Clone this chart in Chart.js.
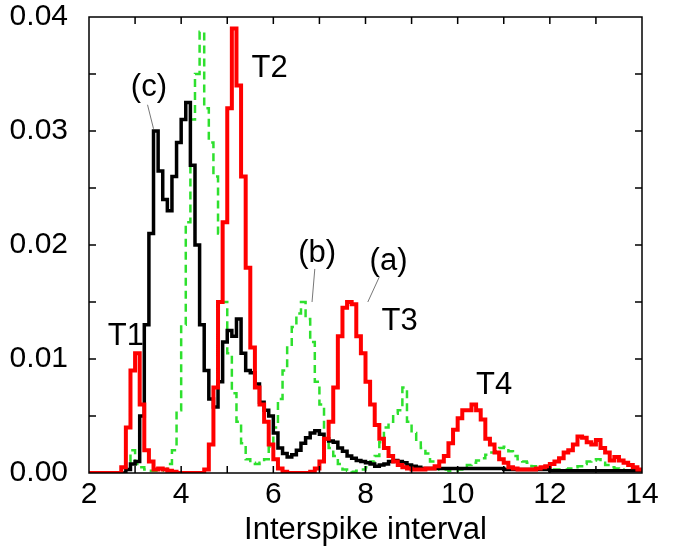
<!DOCTYPE html>
<html>
<head>
<meta charset="utf-8">
<script src="https://cdn.jsdelivr.net/npm/chart.js@4/dist/chart.umd.min.js"></script>
<style>
body { margin: 0; background: #fff; }
#wrap { width: 676px; height: 554px; }
</style>
</head>
<body>
<div id="wrap"><canvas id="isiChart" width="676" height="554"></canvas></div>
<script>
// bin left edges (width 0.1), last entry closes the final bin
var bins = [
  2.0,2.1,2.2,2.3,2.4,2.5,2.6,2.7,2.8,2.9,
  3.0,3.1,3.2,3.3,3.4,3.5,3.6,3.7,3.8,3.9,
  4.0,4.1,4.2,4.3,4.4,4.5,4.6,4.7,4.8,4.9,
  5.0,5.1,5.2,5.3,5.4,5.5,5.6,5.7,5.8,5.9,
  6.0,6.1,6.2,6.3,6.4,6.5,6.6,6.7,6.8,6.9,
  7.0,7.1,7.2,7.3,7.4,7.5,7.6,7.7,7.8,7.9,
  8.0,8.1,8.2,8.3,8.4,8.5,8.6,8.7,8.8,8.9,
  9.0,9.1,9.2,9.3,9.4,9.5,9.6,9.7,9.8,9.9,
  10.0,10.1,10.2,10.3,10.4,10.5,10.6,10.7,10.8,10.9,
  11.0,11.1,11.2,11.3,11.4,11.5,11.6,11.7,11.8,11.9,
  12.0,12.1,12.2,12.3,12.4,12.5,12.6,12.7,12.8,12.9,
  13.0,13.1,13.2,13.3,13.4,13.5,13.6,13.7,13.8,13.9,
  14.0
];

// (a) red
var seriesA = [
  0,0,0,0,0,0,0,0.0005,0.004,0.009,
  0.0105,0.006,0.002,0.001,0.0003,0.0004,0.0003,0.0002,0.0001,0,
  0,0,0,0,0,0.0003,0.0025,0.0075,0.015,0.022,
  0.032,0.039,0.034,0.026,0.018,0.011,0.0075,0.006,0.0045,0.0025,
  0.0012,0.0004,0.0001,0,0,0,0,0,0.0001,0.0004,
  0.001,0.003,0.0045,0.0075,0.012,0.0145,0.015,0.0148,0.012,0.0105,
  0.008,0.006,0.0042,0.003,0.0022,0.0015,0.001,0.0007,0.0005,0.0004,
  0.0003,0.0003,0.0003,0.0004,0.0004,0.0006,0.001,0.0015,0.0026,0.0038,
  0.0048,0.0055,0.0055,0.006,0.0055,0.0047,0.003,0.0025,0.0018,0.0012,
  0.0009,0.0005,0.0004,0.0003,0.0003,0.0003,0.0003,0.0004,0.0005,0.0006,
  0.0008,0.001,0.0013,0.0018,0.002,0.0025,0.0032,0.0031,0.0027,0.0025,
  0.0029,0.0022,0.0018,0.0011,0.0014,0.0011,0.0009,0.0007,0.0005,0.0003
];

// (b) green dashed
var seriesB = [
  0,0,0,0,0,0,0,0,0.001,0.002,
  0.0008,0.0005,0.0003,0.0002,0.0002,0.0002,0.0003,0.0008,0.002,0.0055,
  0.013,0.022,0.031,0.035,0.0387,0.032,0.029,0.026,0.021,0.015,
  0.0105,0.007,0.0045,0.0026,0.0012,0.0009,0.0008,0.0009,0.0012,0.0023,
  0.004,0.0065,0.009,0.011,0.0128,0.014,0.015,0.0135,0.0115,0.008,
  0.006,0.003,0.0022,0.0015,0.0008,0.0003,0.0002,0.0001,0.0002,0.0003,
  0.0005,0.001,0.0015,0.0027,0.004,0.0045,0.0052,0.0055,0.0075,0.0045,
  0.0035,0.0028,0.0022,0.0017,0.001,0.0005,0.0003,0.0003,0.0002,0.0002,
  0.0003,0.0005,0.0007,0.0009,0.0011,0.0013,0.0016,0.0018,0.0019,0.0022,
  0.0023,0.0019,0.0015,0.0012,0.001,0.0009,0.0006,0.0004,0.0003,0.0003,
  0.0003,0.0003,0.0003,0.0003,0.0004,0.0005,0.0006,0.0008,0.001,0.0011,
  0.0012,0.0009,0.0007,0.0005,0.0004,0.0003,0.0002,0.0002,0.0002,0.0002
];

// (c) black
var seriesC = [
  0,0,0,0,0,0,0,0,0.0003,0.0008,
  0.001,0.005,0.013,0.021,0.030,0.0265,0.024,0.023,0.026,0.029,
  0.031,0.0325,0.027,0.020,0.013,0.009,0.0065,0.0058,0.008,0.0115,
  0.0125,0.012,0.0135,0.0105,0.009,0.0088,0.0078,0.0062,0.0055,0.005,
  0.0035,0.0022,0.0017,0.0014,0.0016,0.002,0.0026,0.0031,0.0035,0.0037,
  0.0034,0.003,0.0028,0.0027,0.0022,0.0019,0.0015,0.0013,0.0011,0.001,
  0.0009,0.0008,0.0006,0.0007,0.0008,0.001,0.0011,0.001,0.0009,0.0007,
  0.0006,0.0005,0.0004,0.0004,0.0004,0.0004,0.0004,0.0004,0.0004,0.0004,
  0.0004,0.0004,0.0004,0.0004,0.0004,0.0004,0.0004,0.0004,0.0004,0.0004,
  0.0003,0.0003,0.0003,0.0003,0.0003,0.0003,0.0003,0.0003,0.0003,0.0003,
  0.0002,0.0002,0.0002,0.0002,0.0002,0.0002,0.0002,0.0002,0.0002,0.0002,
  0.0002,0.0002,0.0002,0.0002,0.0002,0.0002,0.0002,0.0002,0.0002,0.0002
];

// text labels in data coordinates
var labelText = ['T1', 'T2', 'T3', 'T4', '(a)', '(b)', '(c)'];
var labelX    = [2.8, 5.92, 8.74, 10.79, 8.5, 6.95, 3.3];
var labelY    = [0.012, 0.0355, 0.0133, 0.0077, 0.0186, 0.0193, 0.0338];

// leader lines: [x0, y0, x1, y1]
var leaders = [
  [8.3, 0.0172, 8.05, 0.0150],
  [6.9, 0.0179, 6.84, 0.0150],
  [3.27, 0.0323, 3.4, 0.0302]
];

var FONT = '"Liberation Sans", Arial, Helvetica, sans-serif';

function toPoints(vals) {
  var pts = [];
  for (var i = 0; i < vals.length; i++) pts.push({x: bins[i], y: vals[i]});
  pts.push({x: bins[vals.length], y: vals[vals.length - 1]});
  return pts;
}

// frame, inward ticks, labels
var decorations = {
  id: 'decorations',
  beforeDraw: function(chart) {
    var ctx = chart.ctx;
    ctx.save();
    ctx.fillStyle = '#fff';
    ctx.fillRect(0, 0, chart.width, chart.height);
    ctx.restore();
  },
  afterDatasetsDraw: function(chart) {
    var ctx = chart.ctx;
    var a = chart.chartArea;
    var xs = chart.scales.x, ys = chart.scales.y;
    var tick = 7;
    ctx.save();
    ctx.strokeStyle = '#000';
    ctx.lineWidth = 1.5;
    ctx.beginPath();
    for (var xv = 3; xv < 14; xv++) {
      var px = xs.getPixelForValue(xv);
      ctx.moveTo(px, a.bottom); ctx.lineTo(px, a.bottom - tick);
      ctx.moveTo(px, a.top); ctx.lineTo(px, a.top + tick);
    }
    for (var k = 1; k < 8; k++) {
      var py = ys.getPixelForValue(k * 0.005);
      ctx.moveTo(a.left, py); ctx.lineTo(a.left + tick, py);
      ctx.moveTo(a.right, py); ctx.lineTo(a.right - tick, py);
    }
    ctx.stroke();
    ctx.strokeRect(a.left, a.top, a.right - a.left, a.bottom - a.top);

    // leader lines
    ctx.strokeStyle = '#777';
    ctx.lineWidth = 1;
    ctx.beginPath();
    leaders.forEach(function(l) {
      ctx.moveTo(xs.getPixelForValue(l[0]), ys.getPixelForValue(l[1]));
      ctx.lineTo(xs.getPixelForValue(l[2]), ys.getPixelForValue(l[3]));
    });
    ctx.stroke();

    ctx.fillStyle = '#000';
    ctx.font = '31px ' + FONT;
    ctx.textAlign = 'center';
    ctx.textBaseline = 'middle';
    for (var i = 0; i < labelText.length; i++) {
      ctx.fillText(labelText[i], xs.getPixelForValue(labelX[i]), ys.getPixelForValue(labelY[i]));
    }
    ctx.restore();
  }
};

new Chart(document.getElementById('isiChart'), {
  type: 'line',
  data: {
    datasets: [{
      label: '(a)',
      data: toPoints(seriesA),
      borderColor: '#ff0000',
      borderWidth: 4,
      stepped: true,
      pointRadius: 0,
      fill: false
    }, {
      label: '(c)',
      data: toPoints(seriesC),
      borderColor: '#000000',
      borderWidth: 3.5,
      stepped: true,
      pointRadius: 0,
      fill: false
    }, {
      label: '(b)',
      data: toPoints(seriesB),
      borderColor: '#2ee02e',
      borderWidth: 2.5,
      borderDash: [8, 5],
      stepped: true,
      pointRadius: 0,
      fill: false
    }]
  },
  options: {
    responsive: false,
    animation: false,
    layout: { padding: { left: 0, right: 34, top: 17, bottom: 0 } },
    plugins: {
      legend: { display: false },
      tooltip: { enabled: false }
    },
    scales: {
      x: {
        type: 'linear',
        min: 2,
        max: 14,
        grid: { display: false, drawTicks: false },
        border: { display: false },
        ticks: {
          stepSize: 2,
          padding: 4,
          color: '#000',
          font: { family: FONT, size: 30 }
        },
        title: {
          display: true,
          text: 'Interspike interval',
          color: '#000',
          font: { family: FONT, size: 31 },
          padding: { top: 0, bottom: 5 }
        },
        afterFit: function(s) { s.height = 81; s.paddingLeft = 0; s.paddingRight = 0; }
      },
      y: {
        min: 0,
        max: 0.04,
        grid: { display: false, drawTicks: false },
        border: { display: false },
        ticks: {
          stepSize: 0.01,
          padding: 21,
          color: '#000',
          font: { family: FONT, size: 30 },
          callback: function(v) { return v.toFixed(2); }
        },
        afterFit: function(s) { s.width = 89; s.paddingTop = 0; s.paddingBottom = 0; }
      }
    }
  },
  plugins: [decorations]
});
</script>
</body>
</html>
